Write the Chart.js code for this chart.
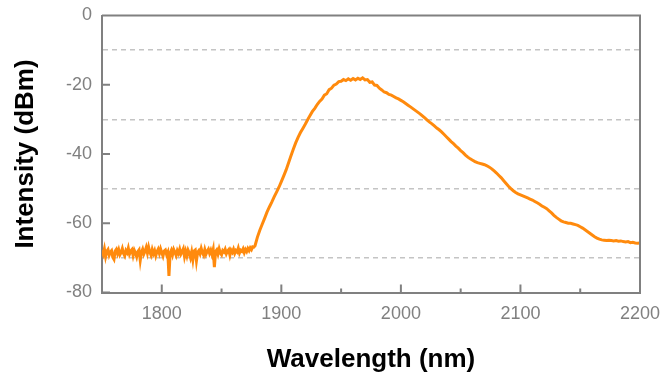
<!DOCTYPE html>
<html>
<head>
<meta charset="utf-8">
<script src="https://cdn.jsdelivr.net/npm/chart.js@4.4.1/dist/chart.umd.min.js"></script>
<style>
html,body{margin:0;padding:0;background:#fff;}
#wrap{width:672px;height:378px;position:relative;}
</style>
</head>
<body>
<div id="wrap"><canvas id="c" width="672" height="378"></canvas></div>
<script>
// Noise floor: 1 nm spacing, 1750 to 1877 nm (dBm)
const floorStart = 1750;
const floorStep = 1;
const floorIntensity = [
  -67.8,-68.9,-67.4,-69.6,-68.1,-67.6,-69.2,-68.3,-67.9,-69.8,
  -70.4,-68.0,-67.5,-68.8,-67.7,-69.1,-68.4,-67.3,-68.7,-69.4,
  -67.9,-68.5,-67.2,-68.9,-68.0,-67.6,-69.3,-67.8,-68.6,-69.7,
  -68.2,-67.7,-70.7,-68.4,-67.5,-68.9,-68.1,-67.0,-68.6,-66.9,
  -68.3,-69.2,-67.6,-68.8,-67.9,-69.4,-68.2,-67.5,-68.7,-67.4,
  -68.5,-69.5,-68.0,-67.7,-69.0,-68.3,-75.2,-68.6,-67.8,-69.1,
  -67.6,-68.4,-69.3,-67.9,-68.7,-67.5,-68.9,-68.2,-67.4,-69.6,
  -68.1,-69.4,-67.8,-68.6,-69.9,-68.3,-70.5,-68.0,-67.7,-70.8,
  -68.4,-67.9,-68.8,-67.3,-68.5,-69.2,-67.6,-68.9,-68.1,-67.5,
  -68.7,-67.8,-69.0,-67.6,-72.7,-68.2,-67.7,-68.9,-67.4,-68.6,
  -69.1,-67.9,-68.3,-67.5,-68.8,-68.0,-67.6,-69.2,-67.8,-68.4,
  -67.5,-68.7,-67.9,-68.3,-67.2,-68.6,-67.8,-68.1,-67.4,-68.5,
  -67.6,-68.2,-67.3,-67.9,-67.1,-67.6,-66.8,-66.9
];
// Signal: 2 nm spacing, 1878 to 2200 nm (dBm)
const signalStart = 1878;
const signalStep = 2;
const signalIntensity = [
  -66.5,-64.0,-62.0,-60.3,-58.6,-56.8,-55.3,-53.9,-52.4,-51.0,
  -49.6,-48.0,-46.3,-44.6,-42.6,-40.6,-38.6,-36.8,-35.2,-33.8,
  -32.6,-31.4,-30.1,-28.9,-27.7,-26.8,-25.7,-24.8,-24.1,-23.0,
  -22.6,-21.4,-21.0,-20.1,-19.8,-19.1,-19.0,-18.5,-18.8,-18.3,
  -18.7,-18.2,-18.6,-18.1,-18.5,-18.0,-18.6,-18.5,-19.3,-19.2,
  -20.1,-20.2,-21.0,-21.5,-22.1,-22.3,-22.8,-23.0,-23.4,-23.8,
  -24.1,-24.5,-24.9,-25.4,-25.9,-26.4,-26.9,-27.4,-27.9,-28.4,
  -29.0,-29.6,-30.2,-30.8,-31.3,-31.9,-32.5,-33.0,-33.6,-34.3,
  -35.0,-35.7,-36.4,-37.0,-37.7,-38.3,-39.0,-39.6,-40.3,-40.9,
  -41.4,-41.8,-42.2,-42.5,-42.7,-42.9,-43.1,-43.4,-43.8,-44.3,
  -44.9,-45.5,-46.2,-46.9,-47.7,-48.5,-49.3,-50.0,-50.6,-51.1,
  -51.5,-51.8,-52.1,-52.4,-52.7,-53.0,-53.3,-53.7,-54.1,-54.5,
  -55.0,-55.4,-55.8,-56.4,-57.0,-57.7,-58.3,-58.8,-59.3,-59.6,
  -59.8,-60.0,-60.0,-60.2,-60.4,-60.6,-61.0,-61.4,-61.9,-62.4,
  -62.9,-63.4,-63.9,-64.3,-64.6,-64.8,-64.9,-65.0,-64.9,-65.0,
  -65.1,-65.0,-65.2,-65.1,-65.3,-65.4,-65.3,-65.6,-65.5,-65.7,
  -65.8,-65.7
];
// Axis ticks
const xMajorTicks = [1800, 1900, 2000, 2100, 2200];
const xMinorTicks = [1750, 1850, 1950, 2050, 2150];
const yTickLabels = [0, -20, -40, -60, -80];
const yGridLines = [-10, -30, -50, -70];

const points = floorIntensity.map((v, i) => ({x: floorStart + i * floorStep, y: v}))
  .concat(signalIntensity.map((v, i) => ({x: signalStart + i * signalStep, y: v})));
const AXIS = '#808080';
const FONT = "'Liberation Sans', Arial, sans-serif";

const inwardTicks = {
  id: 'inwardTicks',
  afterDraw(chart) {
    const {ctx, chartArea: a, scales: {x, y}} = chart;
    ctx.save();
    ctx.strokeStyle = AXIS;
    ctx.lineWidth = 2;
    ctx.beginPath();
    ctx.moveTo(a.left, a.top); ctx.lineTo(a.right, a.top); ctx.lineTo(a.right, a.bottom);
    xMajorTicks.forEach(v => { const px = x.getPixelForValue(v); ctx.moveTo(px, a.bottom); ctx.lineTo(px, a.bottom - 8); });
    xMinorTicks.forEach(v => { const px = x.getPixelForValue(v); ctx.moveTo(px, a.bottom); ctx.lineTo(px, a.bottom - 4); });
    yTickLabels.forEach(v => { const py = y.getPixelForValue(v); ctx.moveTo(a.left, py); ctx.lineTo(a.left + 8, py); });
    ctx.stroke();
    ctx.restore();
  }
};

new Chart(document.getElementById('c'), {
  type: 'line',
  data: {
    datasets: [{
      data: points,
      borderColor: '#ff8a0d',
      borderWidth: 3,
      pointRadius: 0,
      tension: 0,
      fill: false
    }]
  },
  options: {
    responsive: false,
    animation: false,
    events: [],
    layout: {padding: {left: 0, right: 32, top: 15.5, bottom: 0}},
    plugins: {legend: {display: false}, tooltip: {enabled: false}},
    scales: {
      x: {
        type: 'linear',
        min: 1750, max: 2200,
        afterFit: s => { s.height = 85.5; s.paddingLeft = 0; s.paddingRight = 0; },
        afterBuildTicks: s => { s.ticks = xMajorTicks.map(v => ({value: v})); },
        ticks: {color: AXIS, font: {family: FONT, size: 18}, padding: 11, maxRotation: 0, autoSkip: false,
          callback: v => String(v)},
        grid: {display: false, drawTicks: false},
        border: {display: true, color: AXIS, width: 2},
        title: {display: true, text: 'Wavelength (nm)', color: '#000', font: {family: FONT, size: 26, weight: 'bold'}, padding: {top: 0, bottom: 3}}
      },
      y: {
        type: 'linear',
        min: -80, max: 0,
        afterFit: s => { s.width = 102; s.paddingTop = 0; s.paddingBottom = 0; },
        afterBuildTicks: s => { s.ticks = yTickLabels.concat(yGridLines).sort((a,b)=>a-b).map(v => ({value: v})); },
        ticks: {
          color: AXIS, font: {family: FONT, size: 18}, padding: 10, autoSkip: false,
          callback: v => (yTickLabels.includes(v) ? String(v) : '')
        },
        grid: {
          drawTicks: false,
          lineWidth: 1.5,
          color: c => (c.tick && yGridLines.includes(c.tick.value) ? '#c4c4c4' : 'rgba(0,0,0,0)')
        },
        border: {display: true, color: AXIS, width: 2, dash: [5, 4]},
        title: {display: true, text: 'Intensity (dBm)', color: '#000', font: {family: FONT, size: 26, weight: 'bold'}, padding: {top: 10, bottom: 0}}
      }
    }
  },
  plugins: [inwardTicks]
});
</script>
</body>
</html>
